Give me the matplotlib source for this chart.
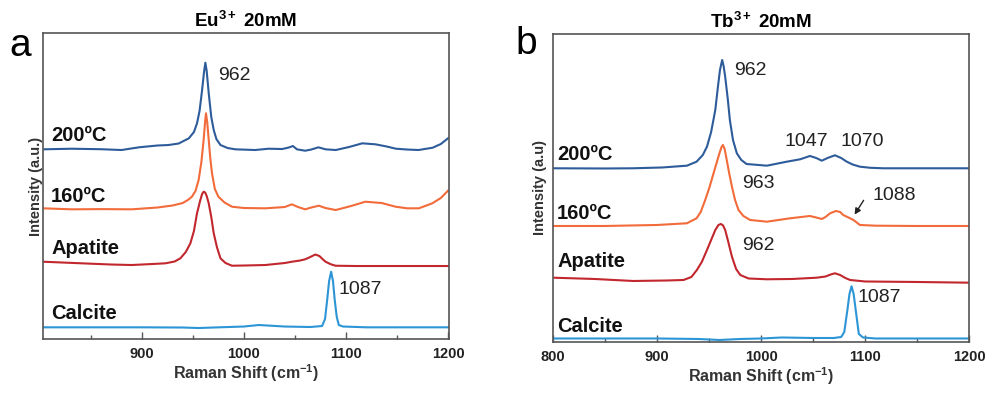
import matplotlib
matplotlib.use("Agg")
import matplotlib.pyplot as plt
from matplotlib.ticker import MultipleLocator

plt.rcParams['font.family'] = ['Liberation Sans', 'DejaVu Sans']
plt.rcParams['mathtext.fontset'] = 'custom'
plt.rcParams['mathtext.rm'] = 'Liberation Sans'
plt.rcParams['mathtext.bf'] = 'Liberation Sans:bold'
plt.rcParams['mathtext.it'] = 'Liberation Sans:italic'

# ---------------- Panel a (Eu3+ 20mM) ----------------
a_200_x = [803, 831, 860, 880, 897, 915, 926, 936, 946, 951, 954, 956.5, 959, 961, 962.2, 963.5, 965.5, 968, 970.4,
           973, 977, 984, 991.7, 1011, 1024, 1037.5, 1044, 1048, 1052, 1060, 1066, 1073, 1080, 1090, 1103, 1116,
           1129, 1140, 1149, 1160, 1171, 1185, 1193, 1200]
a_200_y = [189.7, 190.3, 189.8, 189, 191.7, 193.5, 194, 195.5, 200.7, 207, 215.7, 228, 249, 268, 276.3, 268, 245.7,
           222, 209, 200, 194, 191, 189.7, 189, 190.3, 190, 191.5, 193, 189.7, 188.3, 189.5, 191.7, 189.7, 189,
           192, 195.7, 194.7, 192.5, 190.3, 189.5, 189, 191.3, 195, 200.7]

a_160_x = [803, 831, 860, 890, 915, 930, 940, 945, 949, 952.5, 955.6, 958.3, 960.5, 962, 962.8, 964, 965.5, 967,
           968.7, 971.5, 975, 981, 988.3, 1000, 1021, 1040, 1047, 1053, 1060, 1066, 1073.4, 1080, 1090, 1105, 1119,
           1135, 1148.7, 1160, 1171.5, 1184.6, 1193, 1200]
a_160_y = [130.7, 129.7, 129.9, 129.7, 131.5, 133.5, 136, 139, 142.3, 148, 159, 177, 199, 218, 225.7, 217, 199, 181,
           165.7, 150, 142.3, 136.5, 132.3, 131, 130.7, 132, 134.7, 132, 129.7, 131.5, 133.3, 131, 129, 133, 137.3,
           136, 132.3, 130.7, 130.7, 135.7, 141, 148.3]

a_apa_x = [803, 841, 870, 890, 910, 923, 932, 937.7, 943, 947.5, 951, 954, 957, 959, 960.5, 962, 963.5, 965.5, 968,
           970.4, 973.5, 977, 982, 988.3, 1000, 1021, 1040, 1047, 1055, 1060, 1065, 1070, 1074, 1077, 1080, 1085,
           1089.8, 1110, 1150, 1200]
a_apa_y = [77.3, 75.7, 74.5, 74, 75, 75.7, 77.5, 80.7, 87, 95.7, 108, 125.7, 138, 145, 147.3, 146.5, 143, 135.7, 122,
           105.7, 92, 80.7, 76, 73.3, 73.5, 74, 76, 77.3, 78.5, 79.7, 82, 84.5, 83, 80, 77.3, 74.8, 73.3, 73, 73, 73]

a_cal_x = [803, 850, 900, 940, 955.6, 970, 1000, 1014.5, 1040, 1065, 1076.6, 1079.5, 1081.6, 1083.5, 1085.5, 1087.3,
           1089, 1091, 1093, 1097, 1120, 1160, 1200]
a_cal_y = [11.7, 11.7, 11.7, 11.5, 11, 11.5, 12.5, 14, 12.5, 12, 13, 20, 39, 58, 67.3, 58, 39, 22, 14, 12.5, 11.7,
           11.7, 11.7]

# ---------------- Panel b (Tb3+ 20mM) ----------------
b_200_x = [800, 850, 877, 905, 928.7, 938, 944, 948, 952, 956, 958.5, 960.5, 962.6, 964, 965.5, 968, 970, 973, 976.7,
           981, 986, 1005.6, 1024.8, 1037.6, 1047, 1053, 1058.4, 1064, 1071, 1077, 1082.4, 1088, 1095, 1105, 1117.6,
           1150, 1200]
b_200_y = [173.7, 173.5, 173.7, 174.5, 176.3, 180.3, 187, 195.3, 210, 232, 255, 272, 282, 276, 265.3, 243, 222, 202,
           188.7, 182, 178, 176.3, 180.3, 182.7, 186, 184, 181.3, 184, 186.7, 184, 180.3, 177.5, 175.3, 174.2, 173.7,
           173.7, 173.7]

b_160_x = [800, 850, 900, 928.7, 938, 942, 946.3, 950.5, 954.3, 957.5, 960, 962, 963.3, 965, 967, 969.5, 972, 975,
           978.3, 983, 989.5, 1005.6, 1028, 1047, 1053, 1058.4, 1062, 1066.4, 1072, 1076, 1079, 1084, 1088.8, 1092,
           1095, 1110, 1150, 1200]
b_160_y = [116, 116, 117, 118.7, 123.7, 130, 142, 155, 168.7, 180, 188.7, 195, 197, 193, 182, 168, 155.3, 142, 132,
           126, 122, 120.3, 123.7, 126, 124.5, 123, 125, 128.7, 131, 130, 127, 124.5, 122, 119.5, 117, 116.3, 116, 116]

b_apa_x = [800, 840, 877, 910, 925.5, 933, 938.3, 943, 948, 952, 956, 959, 961.4, 963.5, 965.5, 968.5, 972, 976, 980,
           988, 1005.6, 1030, 1053.6, 1062, 1067, 1071, 1076, 1081, 1085.6, 1100, 1150, 1200]
b_apa_y = [64.3, 63, 61, 61.5, 62, 65, 72, 80, 92, 102, 112, 117, 118, 116.5, 112, 100, 85.3, 73, 67, 63.5, 62.7, 63,
           64.3, 65.5, 67.5, 68.7, 67, 64, 62, 60.5, 60, 59.3]

b_cal_x = [800, 850, 900, 940, 960, 980, 1000, 1020, 1050, 1070, 1077, 1080, 1083, 1085, 1087, 1089, 1091, 1094, 1098,
           1110, 1150, 1200]
b_cal_y = [3.5, 3.5, 3.5, 3, 2, 3, 3.5, 4.5, 4, 4, 5, 10, 32, 48, 55.7, 48, 32, 8, 4.5, 3.5, 3.5, 3.5]

series_names = ["200ºC", "160ºC", "Apatite", "Calcite"]
colors = ["#2e5c9a", "#f26b3a", "#c1272d", "#2b95d6"]
xticks_a = [900, 1000, 1100, 1200]
xticks_b = [800, 900, 1000, 1100, 1200]

fig = plt.figure(figsize=(9.92, 3.96), dpi=100)
axA = fig.add_axes([0.0433, 0.1439, 0.4093, 0.7727])
axB = fig.add_axes([0.5575, 0.1364, 0.4194, 0.7778])

panels = [
    (axA, [(a_200_x, a_200_y), (a_160_x, a_160_y), (a_apa_x, a_apa_y), (a_cal_x, a_cal_y)],
     (803, 1201), (0, 306), xticks_a, r"Eu$^{\mathbf{3+}}$ 20mM", "Intensity (a.u.)",
     [135, 196, 248, 313], 811, 0),
    (axB, [(b_200_x, b_200_y), (b_160_x, b_160_y), (b_apa_x, b_apa_y), (b_cal_x, b_cal_y)],
     (800, 1200), (0, 308), xticks_b, r"Tb$^{\mathbf{3+}}$ 20mM", "Intensity (a.u)",
     [154, 212.5, 261, 326], 804, 4),
]

spine_col = "#555555"
for ax, data, xl, yl, xt, title, ylab, label_py, label_x, lpad in panels:
    for (xs, ys), c in zip(data, colors):
        ax.plot(xs, ys, color=c, lw=1.5)
    ax.set_xticks(xt)
    ax.xaxis.set_minor_locator(MultipleLocator(50))
    ax.set_xlim(*xl)
    ax.set_ylim(*yl)
    ax.set_yticks([])
    ax.tick_params(axis="x", which="major", direction="in", length=5, width=1, color=spine_col,
                   labelsize=10.5, pad=6)
    ax.tick_params(axis="x", which="minor", direction="in", length=3, width=1, color=spine_col)
    for lab in ax.get_xticklabels():
        lab.set_fontweight("bold")
        lab.set_color("#222222")
    for s in ax.spines.values():
        s.set_color(spine_col)
        s.set_linewidth(1.2)
    ax.set_xlabel("Raman Shift (cm$^{\\mathbf{-1}}$)", fontsize=11.5, fontweight="bold", color="#333333",
                  labelpad=1)
    ax.set_ylabel(ylab, fontsize=10.5, fontweight="bold", color="#333333", labelpad=lpad)
    ax.set_title(title, fontsize=13.5, fontweight="bold", pad=4)
    for name, py in zip(series_names, label_py):
        ax.text(label_x, yl[1] - (py - 33), name, fontsize=14.5, fontweight="bold", va="center", ha="left",
                color="#111111")

# peak annotations, panel a
axA.text(975, 264, "962", fontsize=14, va="center", ha="left", color="#222222")
axA.text(1093, 50, "1087", fontsize=14, va="center", ha="left", color="#222222")

# peak annotations, panel b
axB.text(974, 271, "962", fontsize=14, va="center", ha="left", color="#222222")
axB.text(1023, 200, "1047", fontsize=14, va="center", ha="left", color="#222222")
axB.text(1076, 200, "1070", fontsize=14, va="center", ha="left", color="#222222")
axB.text(982, 158, "963", fontsize=14, va="center", ha="left", color="#222222")
axB.text(1107, 146, "1088", fontsize=14, va="center", ha="left", color="#222222")
axB.text(982, 96, "962", fontsize=14, va="center", ha="left", color="#222222")
axB.text(1093, 44, "1087", fontsize=14, va="center", ha="left", color="#222222")
axB.annotate("", xy=(1088.5, 125), xytext=(1100, 144),
             arrowprops=dict(arrowstyle="-|>", color="#222222", lw=1, mutation_scale=9))

# panel letters
fig.text(0.009, 0.885, "a", fontsize=28, va="center", ha="left")
fig.text(0.520, 0.890, "b", fontsize=28, va="center", ha="left")

fig.savefig("out.png", dpi=100)
